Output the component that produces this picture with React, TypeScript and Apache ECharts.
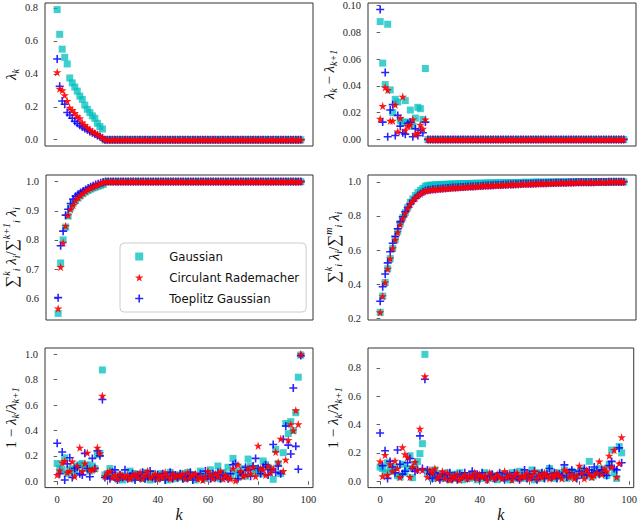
import React, { useEffect, useRef } from "react";
import * as echarts from "echarts";

const SERIES_NAMES = ["Gaussian", "Circulant Rademacher", "Toeplitz Gaussian"];
const X_TICKS = [0, 20, 40, 60, 80, 100];

const TICKS_P1 = [0, 0.2, 0.4, 0.6, 0.8];
const TICKS_P2 = [0, 0.02, 0.04, 0.06, 0.08, 0.1];
const TICKS_P3 = [0.6, 0.7, 0.8, 0.9, 1.0];
const TICKS_P4 = [0.2, 0.4, 0.6, 0.8, 1.0];
const TICKS_P5 = [0, 0.2, 0.4, 0.6, 0.8, 1.0];
const TICKS_P6 = [0, 0.2, 0.4, 0.6, 0.8];

// Panel 1: lambda_k
const lamGauss = [0.79,0.64,0.55,0.50,0.46,0.375,0.345,0.32,0.295,0.265,0.245,0.21,0.185,0.165,0.145,0.13,0.10,0.08,0.065,
  0,0,0,0,0,0,0,0,0,0, 0,0,0,0,0,0,0,0,0,0, 0,0,0,0,0,0,0,0,0,0, 0,0,0,0,0,0,0,0,0,0,
  0,0,0,0,0,0,0,0,0,0, 0,0,0,0,0,0,0,0,0,0, 0,0,0,0,0,0,0,0,0,0, 0,0,0,0,0,0,0,0,0];
const lamCirc = [0.41,0.31,0.30,0.27,0.235,0.195,0.18,0.162,0.143,0.13,0.105,0.09,0.075,0.062,0.05,0.042,0.033,0.024,0.014,
  0,0,0,0,0,0,0,0,0,0, 0,0,0,0,0,0,0,0,0,0, 0,0,0,0,0,0,0,0,0,0, 0,0,0,0,0,0,0,0,0,0,
  0,0,0,0,0,0,0,0,0,0, 0,0,0,0,0,0,0,0,0,0, 0,0,0,0,0,0,0,0,0,0, 0,0,0,0,0,0,0,0,0];
const lamToep = [0.49,0.325,0.235,0.215,0.165,0.15,0.13,0.112,0.10,0.088,0.078,0.068,0.06,0.05,0.043,0.035,0.026,0.018,0.01,
  0,0,0,0,0,0,0,0,0,0, 0,0,0,0,0,0,0,0,0,0, 0,0,0,0,0,0,0,0,0,0, 0,0,0,0,0,0,0,0,0,0,
  0,0,0,0,0,0,0,0,0,0, 0,0,0,0,0,0,0,0,0,0, 0,0,0,0,0,0,0,0,0,0, 0,0,0,0,0,0,0,0,0];

// Panel 2: lambda_k - lambda_{k+1}
const gapGauss = [0.088,0.057,0.041,0.086,0.037,0.020,0.030,0.028,0.014,0.013,0.029,0.013,0.022,0.010,0.016,0.024,0.023,0.015,0.053,
  0,0,0,0,0,0,0,0,0,0, 0,0,0,0,0,0,0,0,0,0, 0,0,0,0,0,0,0,0,0,0, 0,0,0,0,0,0,0,0,0,0,
  0,0,0,0,0,0,0,0,0,0, 0,0,0,0,0,0,0,0,0,0, 0,0,0,0,0,0,0,0,0,0, 0,0,0,0,0,0,0,0,0];
const gapCirc = [0.0155,0.025,0.039,0.037,0.014,0.014,0.026,0.006,0.016,0.032,0.007,0.010,0.011,0.015,0.004,0.005,0.011,0.008,0.015,
  0,0,0,0,0,0,0,0,0,0, 0,0,0,0,0,0,0,0,0,0, 0,0,0,0,0,0,0,0,0,0, 0,0,0,0,0,0,0,0,0,0,
  0,0,0,0,0,0,0,0,0,0, 0,0,0,0,0,0,0,0,0,0, 0,0,0,0,0,0,0,0,0,0, 0,0,0,0,0,0,0,0,0];
const gapToep = [0.097,0.013,0.050,0.002,0.022,0.026,0.003,0.018,0.010,0.005,0.004,0.012,0.013,0.002,0.008,0.003,0.007,0.005,0.013,
  0,0,0,0,0,0,0,0,0,0, 0,0,0,0,0,0,0,0,0,0, 0,0,0,0,0,0,0,0,0,0, 0,0,0,0,0,0,0,0,0,0,
  0,0,0,0,0,0,0,0,0,0, 0,0,0,0,0,0,0,0,0,0, 0,0,0,0,0,0,0,0,0,0, 0,0,0,0,0,0,0,0,0];

// Panel 3: sum_i^k / sum_i^{k+1}
const partGauss = [0.548,0.721,0.80,0.844,0.882,0.91,0.925,0.935,0.945,0.953,0.96,0.965,0.97,0.974,0.978,0.981,0.984,0.987,0.99,
  1,1,1,1,1,1,1,1,1,1, 1,1,1,1,1,1,1,1,1,1, 1,1,1,1,1,1,1,1,1,1, 1,1,1,1,1,1,1,1,1,1,
  1,1,1,1,1,1,1,1,1,1, 1,1,1,1,1,1,1,1,1,1, 1,1,1,1,1,1,1,1,1,1, 1,1,1,1,1,1,1,1,1];
const partCirc = [0.565,0.707,0.79,0.848,0.885,0.905,0.92,0.935,0.945,0.952,0.96,0.967,0.973,0.978,0.982,0.986,0.99,0.994,0.997,
  1,1,1,1,1,1,1,1,1,1, 1,1,1,1,1,1,1,1,1,1, 1,1,1,1,1,1,1,1,1,1, 1,1,1,1,1,1,1,1,1,1,
  1,1,1,1,1,1,1,1,1,1, 1,1,1,1,1,1,1,1,1,1, 1,1,1,1,1,1,1,1,1,1, 1,1,1,1,1,1,1,1,1];
const partToep = [0.602,0.78,0.83,0.885,0.905,0.925,0.94,0.95,0.957,0.963,0.968,0.973,0.978,0.982,0.986,0.99,0.993,0.996,0.998,
  1,1,1,1,1,1,1,1,1,1, 1,1,1,1,1,1,1,1,1,1, 1,1,1,1,1,1,1,1,1,1, 1,1,1,1,1,1,1,1,1,1,
  1,1,1,1,1,1,1,1,1,1, 1,1,1,1,1,1,1,1,1,1, 1,1,1,1,1,1,1,1,1,1, 1,1,1,1,1,1,1,1,1];

// Panel 4: sum_i^k / sum_i^m
const cumGauss = [0.235,0.33,0.41,0.49,0.55,0.61,0.662,0.71,0.756,0.79,0.82,0.85,0.88,0.90,0.92,0.937,0.95,0.962,0.975,
  0.979,0.980,0.981,0.982,0.983,0.984,0.985,0.985,0.986,0.987,
  0.987,0.988,0.988,0.989,0.989,0.990,0.990,0.991,0.991,0.991,
  0.992,0.992,0.992,0.993,0.993,0.993,0.994,0.994,0.994,0.995,
  0.995,0.995,0.995,0.996,0.996,0.996,0.996,0.997,0.997,0.997,
  0.997,0.997,0.998,0.998,0.998,0.998,0.998,0.998,0.999,0.999,
  0.999,0.999,0.999,0.999,0.999,0.999,0.999,1.0,1.0,1.0,
  1.0,1.0,1.0,1.0,1.0,1.0,1.0,1.0,1.0,1.0,
  1.0,1.0,1.0,1.0,1.0,1.0,1.0,1.0,1.0];
const cumCirc = [0.235,0.33,0.41,0.49,0.55,0.61,0.66,0.705,0.75,0.785,0.815,0.845,0.87,0.89,0.905,0.92,0.93,0.94,0.948,
  0.951,0.953,0.955,0.957,0.958,0.960,0.961,0.962,0.963,0.964,
  0.965,0.966,0.967,0.968,0.969,0.970,0.971,0.972,0.973,0.974,
  0.975,0.976,0.977,0.977,0.978,0.979,0.980,0.980,0.981,0.982,
  0.982,0.983,0.984,0.984,0.985,0.986,0.986,0.987,0.987,0.988,
  0.988,0.989,0.989,0.990,0.990,0.991,0.991,0.992,0.992,0.993,
  0.993,0.993,0.994,0.994,0.995,0.995,0.995,0.996,0.996,0.996,
  0.997,0.997,0.997,0.997,0.998,0.998,0.998,0.998,0.999,0.999,
  0.999,0.999,0.999,1.0,1.0,1.0,1.0,1.0,1.0];
const cumToep = [0.30,0.385,0.46,0.525,0.59,0.64,0.68,0.725,0.765,0.795,0.825,0.85,0.872,0.89,0.905,0.92,0.93,0.94,0.948,
  0.952,0.954,0.956,0.957,0.959,0.960,0.961,0.963,0.964,0.965,
  0.966,0.967,0.968,0.969,0.970,0.971,0.972,0.972,0.973,0.974,
  0.975,0.976,0.977,0.978,0.978,0.979,0.980,0.981,0.981,0.982,
  0.983,0.983,0.984,0.985,0.985,0.986,0.986,0.987,0.988,0.988,
  0.989,0.989,0.990,0.990,0.991,0.991,0.992,0.992,0.993,0.993,
  0.993,0.994,0.994,0.995,0.995,0.995,0.996,0.996,0.996,0.997,
  0.997,0.997,0.997,0.998,0.998,0.998,0.998,0.999,0.999,0.999,
  0.999,0.999,1.0,1.0,1.0,1.0,1.0,1.0,1.0];

// Panel 5: 1 - lambda_k / lambda_{k+1} (left)
const ratGaussL = [0.14,0.10,0.09,0.185,0.06,0.09,0.10,0.07,0.12,0.13,0.14,0.10,0.13,0.08,0.12,0.10,0.21,0.22,0.877,
  0.05,0.06,0.10,0.04,0.03,0.02,0.05,0.01,0.04,0.03,
  0.08,0.02,0.06,0.03,0.05,0.02,0.07,0.03,0.01,0.06,
  0.04,0.02,0.06,0.03,0.05,0.01,0.07,0.04,0.02,0.05,
  0.03,0.06,0.02,0.07,0.03,0.05,0.01,0.04,0.08,0.03,
  0.02,0.06,0.09,0.04,0.03,0.12,0.02,0.07,0.05,0.11,
  0.04,0.18,0.08,0.03,0.06,0.10,0.04,0.175,0.12,0.07,
  0.10,0.08,0.06,0.16,0.13,0.11,0.09,0.015,0.25,0.14,
  0.06,0.225,0.455,0.375,0.47,0.40,0.54,0.82,0.995];
const ratCircL = [0.05,0.085,0.147,0.16,0.07,0.08,0.155,0.04,0.12,0.265,0.08,0.14,0.225,0.09,0.09,0.10,0.265,0.22,0.674,
  0.04,0.07,0.08,0.03,0.05,0.02,0.06,0.04,0.03,0.05,
  0.02,0.04,0.06,0.03,0.07,0.02,0.05,0.08,0.03,0.04,
  0.06,0.02,0.05,0.03,0.07,0.04,0.02,0.06,0.03,0.05,
  0.04,0.06,0.02,0.07,0.03,0.05,0.06,0.02,0.04,0.01,
  0.03,0.08,0.05,0.02,0.06,0.04,0.08,0.02,0.05,0.03,
  0.02,0.10,0.005,0.13,0.08,0.04,0.05,0.10,0.06,0.11,
  0.04,0.28,0.10,0.09,0.05,0.12,0.07,0.10,0.23,0.15,
  0.335,0.08,0.17,0.325,0.45,0.40,0.56,0.45,1.0];
const ratToepL = [0.30,0.06,0.23,0.01,0.137,0.185,0.03,0.10,0.11,0.06,0.05,0.22,0.10,0.035,0.18,0.10,0.24,0.20,0.644,
  0.03,0.04,0.02,0.07,0.09,0.01,0.05,0.03,0.09,0.02,
  0.04,0.06,0.01,0.05,0.03,0.07,0.02,0.04,0.08,0.03,
  0.02,0.05,0.03,0.06,0.01,0.04,0.07,0.02,0.05,0.03,
  0.06,0.02,0.04,0.03,0.07,0.01,0.05,0.03,0.06,0.02,
  0.08,0.04,0.02,0.06,0.03,0.07,0.02,0.05,0.04,0.02,
  0.06,0.13,0.14,0.02,0.07,0.05,0.11,0.09,0.04,0.12,
  0.18,0.10,0.06,0.11,0.13,0.05,0.09,0.29,0.07,0.12,
  0.06,0.33,0.435,0.285,0.215,0.735,0.275,0.095,0.99];

// Panel 6: 1 - lambda_k / lambda_{k+1} (right)
const ratGaussR = [0.10,0.09,0.06,0.13,0.08,0.07,0.10,0.04,0.03,0.12,0.06,0.09,0.18,0.025,0.12,0.14,0.195,0.265,0.895,
  0.06,0.07,0.02,0.08,0.03,0.05,0.02,0.04,0.06,0.01,
  0.03,0.05,0.02,0.06,0.01,0.04,0.03,0.02,0.05,0.03,
  0.01,0.04,0.02,0.06,0.03,0.05,0.02,0.04,0.01,0.03,
  0.05,0.02,0.04,0.01,0.06,0.03,0.02,0.07,0.04,0.02,
  0.05,0.03,0.08,0.01,0.04,0.06,0.02,0.05,0.03,0.09,
  0.04,0.02,0.06,0.03,0.05,0.08,0.02,0.04,0.07,0.03,
  0.06,0.05,0.08,0.04,0.06,0.14,0.03,0.07,0.05,0.09,
  0.06,0.08,0.04,0.12,0.22,0.06,0.02,0.245,0.20];
const ratCircR = [0.14,0.035,0.185,0.045,0.12,0.07,0.145,0.09,0.03,0.24,0.19,0.17,0.03,0.10,0.135,0.08,0.37,0.08,0.74,
  0.03,0.08,0.06,0.09,0.02,0.04,0.07,0.02,0.06,0.01,
  0.04,0.02,0.05,0.01,0.03,0.05,0.02,0.04,0.03,0.06,
  0.02,0.05,0.03,0.04,0.01,0.06,0.03,0.02,0.05,0.03,
  0.02,0.07,0.03,0.05,0.01,0.04,0.06,0.02,0.04,0.03,
  0.06,0.02,0.04,0.07,0.02,0.05,0.03,0.06,0.04,0.02,
  0.05,0.03,0.06,0.04,0.02,0.08,0.07,0.03,0.05,0.02,
  0.04,0.11,0.06,0.02,0.08,0.05,0.03,0.04,0.06,0.14,
  0.05,0.09,0.07,0.18,0.10,0.22,0.03,0.125,0.31];
const ratToepR = [0.34,0.11,0.215,0.02,0.14,0.10,0.06,0.22,0.12,0.05,0.07,0.13,0.16,0.09,0.07,0.08,0.32,0.09,0.72,
  0.08,0.05,0.02,0.06,0.03,0.01,0.05,0.04,0.02,0.06,
  0.02,0.04,0.01,0.05,0.03,0.06,0.02,0.04,0.07,0.03,
  0.05,0.02,0.06,0.03,0.01,0.04,0.05,0.02,0.03,0.06,
  0.03,0.01,0.05,0.04,0.02,0.06,0.03,0.01,0.04,0.08,
  0.02,0.05,0.03,0.07,0.01,0.04,0.06,0.02,0.05,0.09,
  0.03,0.06,0.02,0.05,0.04,0.115,0.03,0.06,0.08,0.04,
  0.02,0.07,0.05,0.09,0.04,0.08,0.06,0.10,0.07,0.05,
  0.08,0.06,0.04,0.11,0.14,0.09,0.08,0.235,0.13];

const SQUARE = "path://M0,0 H100 V100 H0 Z";
const STAR = "path://M50,0 L61,35 L98,35 L68,57 L79,91 L50,70 L21,91 L32,57 L2,35 L39,35 Z";
const PLUS = "path://M40,0 H60 V40 H100 V60 H60 V100 H40 V60 H0 V40 H40 Z";

const SERIF = "'Liberation Serif', 'DejaVu Serif', serif";

export default function App() {
  const ref = useRef<HTMLDivElement>(null);

  useEffect(() => {
    if (!ref.current) return;
    const chart = echarts.init(ref.current, undefined, { renderer: "svg" });

    const L = 45, R = 368, W = 268;
    const panels = [
      { left: L, top: 3, height: 143, min: -0.038, max: 0.83, ticks: TICKS_P1, dec: 1, gap: 23,
        name: "{it|λ}{sub|k}", data: [lamGauss, lamCirc, lamToep], bottom: false },
      { left: R, top: 3, height: 143, min: -0.00485, max: 0.10185, ticks: TICKS_P2, dec: 2, gap: 25,
        name: "{it|λ}{sub|k}{m| − }{it|λ}{sub|k+1}", data: [gapGauss, gapCirc, gapToep], bottom: false },
      { left: L, top: 175, height: 145, min: 0.5254, max: 1.0226, ticks: TICKS_P3, dec: 1, gap: 25,
        name: "{big|∑}{sup|k}{sub|i}{it| λ}{sub|i}{m|/}{big|∑}{sup|k+1}{sub|i}{it| λ}{sub|i}", data: [partGauss, partCirc, partToep], bottom: false },
      { left: R, top: 175, height: 145, min: 0.19, max: 1.04, ticks: TICKS_P4, dec: 1, gap: 24,
        name: "{big|∑}{sup|k}{sub|i}{it| λ}{sub|i}{m|/}{big|∑}{sup|m}{sub|i}{it| λ}{sub|i}", data: [cumGauss, cumCirc, cumToep], bottom: false },
      { left: L, top: 348, height: 145, min: -0.05, max: 1.05, ticks: TICKS_P5, dec: 1, gap: 22,
        name: "{m|1 − }{it|λ}{sub|k}{m|/}{it|λ}{sub|k+1}", data: [ratGaussL, ratCircL, ratToepL], bottom: true },
      { left: R, top: 348, height: 145, min: -0.045, max: 0.94, ticks: TICKS_P6, dec: 1, gap: 25,
        name: "{m|1 − }{it|λ}{sub|k}{m|/}{it|λ}{sub|k+1}", data: [ratGaussR, ratCircR, ratToepR], bottom: true },
    ];

    const labelStyle = { fontFamily: SERIF, fontSize: 10.5, color: "#262626" };
    const nameRich = {
      m: { fontFamily: SERIF, fontSize: 15, lineHeight: 20, color: "#111" },
      it: { fontFamily: SERIF, fontStyle: "italic", fontSize: 15, lineHeight: 20, color: "#111" },
      big: { fontFamily: SERIF, fontSize: 17, lineHeight: 20, color: "#111" },
      sub: { fontFamily: SERIF, fontStyle: "italic", fontSize: 10, lineHeight: 13, verticalAlign: "bottom", color: "#111" },
      sup: { fontFamily: SERIF, fontStyle: "italic", fontSize: 10, lineHeight: 13, verticalAlign: "top", color: "#111" },
    };

    const grid = panels.map((p) => ({
      left: p.left, top: p.top, width: W, height: p.height,
      show: true, borderColor: "#333", borderWidth: 1, backgroundColor: "transparent",
      containLabel: false,
    }));

    const xAxis = panels.map((p, i) => ({
      gridIndex: i, type: "value", min: -4.85, max: 101.85,
      axisLine: { show: false }, splitLine: { show: false },
      axisTick: { show: p.bottom, length: 3.5, inside: false, customValues: X_TICKS, lineStyle: { color: "#333", width: 0.8 } },
      axisLabel: { show: p.bottom, customValues: X_TICKS, margin: 6.5, formatter: (v: number) => String(Math.round(v)), ...labelStyle },
      name: p.bottom ? "k" : "", nameLocation: "middle", nameGap: 18,
      nameTextStyle: { fontFamily: SERIF, fontStyle: "italic", fontSize: 16, color: "#111" },
    }));

    const yAxis = panels.map((p, i) => ({
      gridIndex: i, type: "value", min: p.min, max: p.max,
      axisLine: { show: false }, splitLine: { show: false },
      axisTick: { show: true, length: 3.5, inside: false, customValues: p.ticks, lineStyle: { color: "#333", width: 0.8 } },
      axisLabel: { customValues: p.ticks, margin: 7, formatter: (v: number) => v.toFixed(p.dec), ...labelStyle },
      name: p.name, nameLocation: "middle", nameGap: p.gap, nameRotate: 90,
      nameTextStyle: { fontFamily: SERIF, fontSize: 15, color: "#111", rich: nameRich },
    }));

    const styles = [
      { symbol: SQUARE, size: 7, color: "#00BFBF", opacity: 0.75, z: 2 },
      { symbol: STAR, size: 8.5, color: "#FF0000", opacity: 0.9, z: 4 },
      { symbol: PLUS, size: 8, color: "#0000FF", opacity: 0.85, z: 3 },
    ];

    const series: any[] = [];
    panels.forEach((p, i) => {
      p.data.forEach((vals, s) => {
        const st = styles[s];
        series.push({
          type: "scatter", name: SERIES_NAMES[s], xAxisIndex: i, yAxisIndex: i,
          data: vals.map((v, k) => [k, v]),
          symbol: st.symbol, symbolSize: st.size, z: st.z,
          itemStyle: { color: st.color, opacity: st.opacity },
          silent: true, emphasis: { disabled: true },
        });
      });
    });

    chart.setOption({
      animation: false,
      backgroundColor: "#fff",
      grid, xAxis, yAxis, series,
      legend: {
        orient: "vertical", left: 120, top: 243,
        data: SERIES_NAMES.map((n, s) => ({ name: n, icon: styles[s].symbol })),
        itemWidth: 40, itemHeight: 8, itemGap: 7,
        padding: [6.5, 7, 6.5, 15],
        backgroundColor: "rgba(255,255,255,0.85)",
        borderColor: "#cccccc", borderWidth: 1, borderRadius: 4,
        selectedMode: false,
        textStyle: { fontFamily: "'DejaVu Sans', sans-serif", fontSize: 11.7, color: "#111", lineHeight: 14, padding: [0, 0, 0, 5] },
      },
    });

    return () => chart.dispose();
  }, []);

  return <div ref={ref} style={{ position: "absolute", left: 0, top: 0, width: 640, height: 523 }} />;
}
